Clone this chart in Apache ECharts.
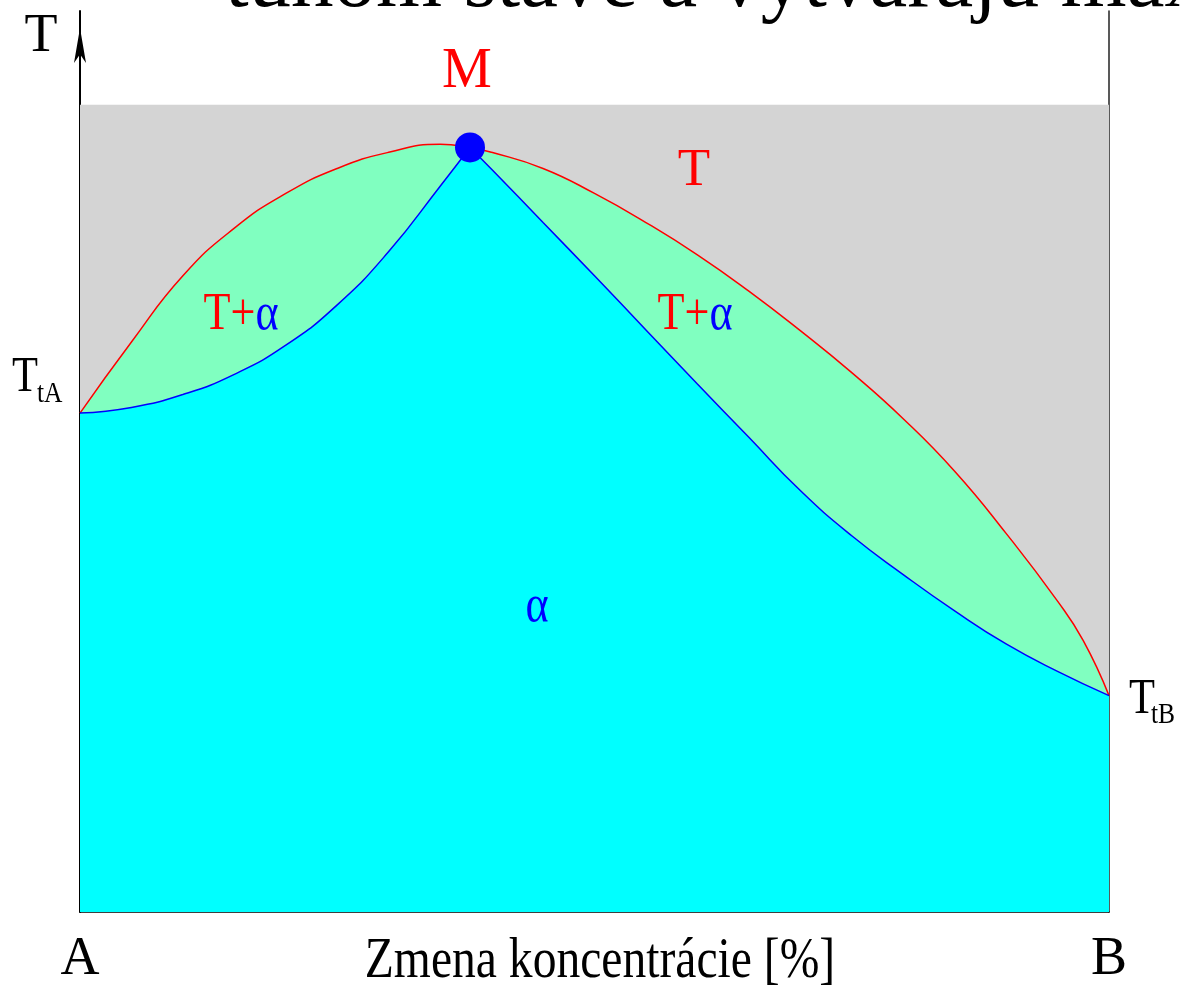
<!DOCTYPE html>
<html>
<head>
<meta charset="utf-8">
<script src="https://cdn.jsdelivr.net/npm/echarts@6/dist/echarts.min.js"></script>
<style>
  html, body { margin: 0; padding: 0; background: #fff; }
  #chart { width: 1182px; height: 987px; }
</style>
</head>
<body>
<div id="chart"></div>
<script>
// concentration 0 = A, 100 = B; temperature in relative units (100 = top of the shaded field)
const endLabels = ['A', 'B'];
const meltTop = [[0, 100], [100, 100]];
const liquidus = [
  [0, 61.8], [5, 70.6], [10, 78.8], [15, 84.7], [20, 89.0], [25, 92.1], [30, 94.1], [35, 95.1],
  [37.9, 94.7], [40, 94.1], [45, 92.1], [50, 89.0], [55, 85.4], [60, 81.4], [65, 76.9], [70, 72.0],
  [75, 66.8], [80, 61.1], [85, 54.6], [90, 46.9], [95, 38.5], [97.5, 33.6], [100, 26.8]
];
const solidusLeft = [
  [0, 61.8], [5, 62.5], [10, 64.1], [15, 66.6], [20, 70.2], [25, 75.2], [30, 81.8], [35, 89.9], [37.9, 94.7]
];
const solidusRight = [
  [37.9, 94.7], [40, 92.0], [45, 85.4], [50, 78.8], [55, 72.1], [60, 65.4], [65, 58.8], [70, 52.2],
  [75, 46.6], [80, 41.8], [85, 37.3], [90, 33.2], [95, 29.8], [100, 26.8]
];
const maximum = [[37.9, 94.7]];

const serif = '"Liberation Serif", "Times New Roman", serif';
const chart = echarts.init(document.getElementById('chart'), null, { renderer: 'canvas' });

const text = (x, y, str, size, color, opts) => ({
  type: 'text', x, y, z: 100, scaleX: (opts && opts.scaleX) || 1,
  style: {
    text: str, font: `${size}px ${serif}`, fill: color,
    align: (opts && opts.align) || 'center', verticalAlign: 'middle'
  }
});
const mixed = (x, y) => ({
  type: 'text', x, y, z: 100, scaleX: 0.85,
  style: {
    text: '{r|T+}{b|α}', align: 'center', verticalAlign: 'middle',
    rich: { r: { font: `52px ${serif}`, fill: '#ff0000' }, b: { font: `52px ${serif}`, fill: '#0000ff' } }
  }
});

chart.setOption({
  animation: false,
  grid: { left: 80, right: 73, top: 11, bottom: 72 },
  xAxis: {
    type: 'value', min: 0, max: 100, interval: 100,
    axisLine: { lineStyle: { color: '#000', width: 1.5 } },
    axisTick: { show: false }, splitLine: { show: false },
    axisLabel: {
      margin: 48, verticalAlign: 'middle', fontFamily: serif, fontSize: 54, color: '#000',
      formatter: v => endLabels[v === 0 ? 0 : 1]
    }
  },
  yAxis: [{
    type: 'value', min: 0, max: 111.6,
    axisLine: { show: true, symbol: ['none', 'arrow'], symbolSize: [9, 35], symbolOffset: [0, -17], lineStyle: { color: '#000', width: 2 } },
    axisTick: { show: false }, axisLabel: { show: false }, splitLine: { show: false }
  }, {
    type: 'value', min: 0, max: 111.6, position: 'right',
    axisLine: { show: true, lineStyle: { color: '#222', width: 1.5 } },
    axisTick: { show: false }, axisLabel: { show: false }, splitLine: { show: false }
  }],
  series: [
    { type: 'line', data: meltTop, symbol: 'none', lineStyle: { width: 0 }, areaStyle: { color: '#d4d4d4', opacity: 1 }, silent: true },
    { type: 'line', data: liquidus, symbol: 'none', smooth: 0.5, lineStyle: { color: '#ff0000', width: 1.5 }, areaStyle: { color: '#80ffc0', opacity: 1 } },
    { type: 'line', data: solidusLeft, symbol: 'none', smooth: 0.5, lineStyle: { color: '#0000ff', width: 1.5 }, areaStyle: { color: '#00ffff', opacity: 1 } },
    { type: 'line', data: solidusRight, symbol: 'none', smooth: 0.5, lineStyle: { color: '#0000ff', width: 1.5 }, areaStyle: { color: '#00ffff', opacity: 1 } },
    { type: 'scatter', data: maximum, symbolSize: 30, itemStyle: { color: '#0000ff', opacity: 1 }, z: 5 }
  ],
  graphic: [
    text(225, -16, 'tuhom stave a vytvárajú max', 85, '#000', { align: 'left' }),
    text(41, 37, 'T', 54, '#000'),
    text(467, 72, 'M', 56, '#ff0000'),
    text(694, 171, 'T', 53, '#ff0000'),
    mixed(241, 315),
    mixed(695, 315),
    text(537, 607, 'α', 52, '#0000ff', { scaleX: 0.85 }),
    text(25, 378, 'T', 50, '#000', { scaleX: 0.85 }),
    text(37, 394, 'tA', 30, '#000', { scaleX: 0.85, align: 'left' }),
    text(1142, 700, 'T', 50, '#000', { scaleX: 0.85 }),
    text(1151, 715, 'tB', 30, '#000', { scaleX: 0.85, align: 'left' }),
    text(600, 962, 'Zmena koncentrácie [%]', 56, '#000', { scaleX: 0.85 })
  ]
});
window.addEventListener('resize', () => chart.resize());
</script>
</body>
</html>
